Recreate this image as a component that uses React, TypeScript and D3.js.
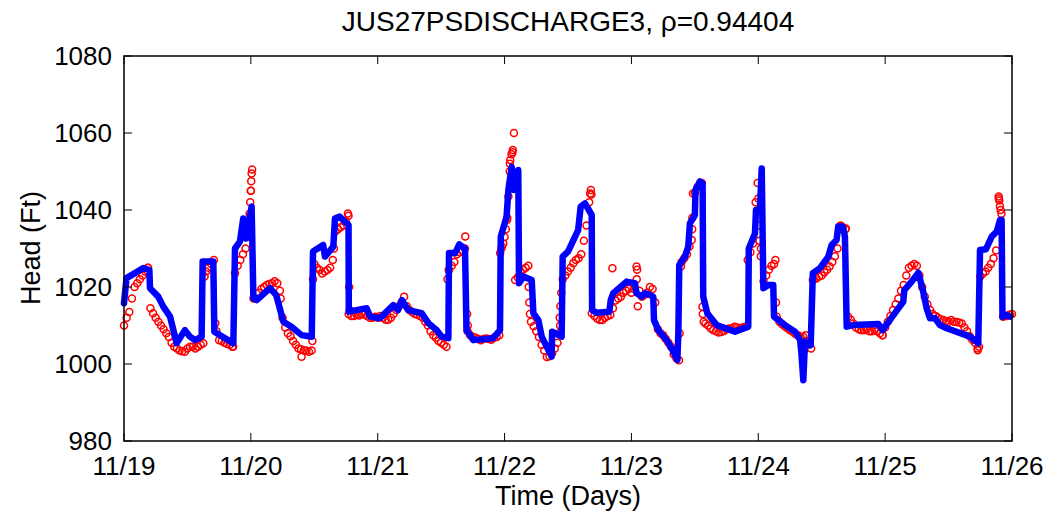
import React from "react";
import * as d3 from "d3";

const title = "JUS27PSDISCHARGE3, ρ=0.94404";
const xTickLabels = ["11/19", "11/20", "11/21", "11/22", "11/23", "11/24", "11/25", "11/26"];
const yTicks = [980, 1000, 1020, 1040, 1060, 1080];

// Model (blue line): [day offset from 11/19, head ft]
const modelSeries: [number, number][] = [
  [0.0, 1015.8], [0.02, 1022.3], [0.152, 1024.9], [0.2, 1024.4], [0.205, 1019.7], [0.27, 1017.5], [0.31, 1014.9],
  [0.363, 1012.3], [0.415, 1005.4], [0.48, 1008.8], [0.52, 1007.1], [0.56, 1006.2], [0.612, 1007.1], [0.62, 1026.6],
  [0.704, 1026.6], [0.712, 1008.4], [0.862, 1005.4], [0.875, 1030], [0.914, 1031.8], [0.94, 1037.8], [0.962, 1032.6],
  [1.006, 1040.9], [1.02, 1017], [1.046, 1016.6], [1.151, 1019.7], [1.2, 1017.9], [1.256, 1011], [1.32, 1009.7],
  [1.4, 1007.5], [1.48, 1007.1], [1.49, 1029.2], [1.57, 1030.9], [1.584, 1027.9], [1.65, 1030.5], [1.663, 1037.8],
  [1.7, 1038.3], [1.77, 1036.1], [1.772, 1013.6], [1.913, 1014.5], [1.94, 1012.3], [2.018, 1011.9], [2.123, 1015.3],
  [2.16, 1014], [2.19, 1016.6], [2.24, 1014], [2.346, 1013.2], [2.4, 1010.6], [2.465, 1008.8], [2.504, 1007.1],
  [2.557, 1006.7], [2.562, 1028.8], [2.61, 1028.8], [2.643, 1031.1], [2.688, 1030], [2.7, 1008.8], [2.754, 1006.2],
  [2.91, 1006.7], [2.964, 1008.8], [2.97, 1033.1], [3.016, 1038.3], [3.03, 1045.2], [3.056, 1051.2], [3.074, 1045.2],
  [3.108, 1050.4], [3.114, 1021], [3.148, 1022.7], [3.214, 1021.8], [3.227, 1013.2], [3.266, 1011.4], [3.293, 1007.1],
  [3.332, 1004.5], [3.371, 1001.9], [3.375, 1008.4], [3.45, 1007.1], [3.458, 1027.9], [3.5, 1029.2], [3.58, 1034.8],
  [3.6, 1040.9], [3.634, 1041.7], [3.687, 1038.7], [3.69, 1014], [3.726, 1013.3], [3.826, 1013.6], [3.837, 1016.6],
  [3.857, 1018.4], [3.962, 1021.4], [4.028, 1021], [4.04, 1018.4], [4.08, 1017.5], [4.107, 1018.4], [4.146, 1017.9],
  [4.172, 1017.5], [4.178, 1011.4], [4.212, 1008.8], [4.278, 1006.2], [4.33, 1003.2], [4.362, 1001], [4.37, 1008],
  [4.377, 1025.7], [4.422, 1027.9], [4.448, 1030.5], [4.461, 1036.5], [4.5, 1038.7], [4.505, 1045.2], [4.54, 1047.4],
  [4.561, 1046.9], [4.566, 1017.5], [4.598, 1013.2], [4.672, 1010.1], [4.816, 1008.4], [4.921, 1009.7], [4.925, 1030],
  [4.974, 1033.9], [4.982, 1040], [5.013, 1040], [5.027, 1050.8], [5.04, 1019.7], [5.08, 1020.5], [5.118, 1020.5],
  [5.124, 1012.3], [5.21, 1010.1], [5.29, 1008.4], [5.33, 1006.2], [5.34, 1002.8], [5.355, 995.8], [5.368, 1005.8],
  [5.413, 1004.9], [5.43, 1023.6], [5.486, 1024.9], [5.552, 1027.9], [5.578, 1030.9], [5.617, 1032.2], [5.63, 1035.7],
  [5.665, 1035.7], [5.683, 1033.1], [5.697, 1009.7], [5.75, 1010.1], [5.946, 1010.4], [5.98, 1008.8], [6.065, 1012.7],
  [6.143, 1016.2], [6.151, 1019.2], [6.209, 1021.4], [6.262, 1023.7], [6.3, 1018.8], [6.327, 1014.5], [6.353, 1011.9],
  [6.393, 1011.9], [6.432, 1010.1], [6.485, 1009.3], [6.669, 1007.1], [6.734, 1005.4], [6.748, 1029.6], [6.795, 1029.8],
  [6.84, 1033.1], [6.88, 1034.4], [6.905, 1037.4], [6.918, 1037.4], [6.925, 1012.3], [6.96, 1012.7], [6.985, 1012.3],
];

// Observed (red circles): readings on the hour, for each day
const obsDay0 = [1010, 1013.5, 1020, 1022, 1024, 1014.5, 1012, 1010, 1008, 1005.5, 1004, 1003.3, 1004, 1004.5, 1004.5, 1005.4, 1025, 1027, 1006.2, 1005.5, 1005, 1023.6, 1027, 1030];
const obsDay1 = [1045, 1017, 1019.5, 1020.5, 1021, 1021, 1012, 1008, 1006, 1004, 1003.5, 1003.2, 1026, 1024.4, 1024, 1025, 1034.5, 1035.5, 1037, 1012.5, 1012.8, 1013, 1012.5, 1012];
const obsDay2 = [1012, 1012, 1011.5, 1013, 1015, 1017.5, 1014, 1013, 1012.5, 1011, 1008.5, 1006.8, 1005.5, 1004.5, 1025.5, 1028.5, 1029.5, 1008.5, 1007, 1006.5, 1006.5, 1006.5, 1006.8, 1007.5];
const obsDay3 = [1033, 1052, 1021.8, 1024, 1025, 1011, 1008.5, 1005, 1001.8, 1002.8, 1005.5, 1022, 1024, 1026.2, 1027.5, 1032, 1042, 1012.5, 1011.4, 1012, 1012.7, 1016.5, 1017.5, 1019];
const obsDay4 = [1018.5, 1022, 1017.5, 1018.5, 1019.5, 1009, 1007.5, 1005.5, 1002.5, 1001, 1027.5, 1030.5, 1044.5, 1047, 1010.5, 1009.2, 1008.5, 1008.3, 1009, 1009.3, 1009.5, 1009.5, 1027, 1031.3];
const obsDay5 = [1043, 1021.5, 1024.5, 1026, 1011, 1009.8, 1008.8, 1007.8, 1007, 1007.5, 1004, 1022.2, 1023, 1024.5, 1026.5, 1030, 1035.5, 1012.3, 1010.5, 1009, 1008.8, 1008.5, 1008.8, 1008];
const obsDay6 = [1009.5, 1012.5, 1015.5, 1019, 1023, 1025.5, 1025.5, 1020, 1015.5, 1013, 1012, 1011.4, 1011, 1011, 1010.8, 1009.5, 1007.2, 1005.5, 1022.7, 1024, 1026, 1029.5, 1039, 1012.5, 1013];

// Observed readings on the half hour, for each day
const obsHalf0 = [1012, 1017, 1021, 1023, 1025, 1013.2, 1011, 1009, 1007, 1004.5, 1003.5, 1003.2, 1004.5, 1004, 1005, 1024, 1026, 1008.5, 1006, 1005.2, 1004.5, 1025.5, 1028.5, 1034];
const obsHalf1 = [1017, 1018.5, 1020, 1020.8, 1021.5, 1019, 1009.5, 1007.2, 1005, 1003.8, 1003.5, 1003.5, 1025, 1023.5, 1024.4, 1027, 1035, 1036, 1013, 1012.5, 1012.6, 1012.8, 1012, 1012.3];
const obsHalf2 = [1012.5, 1011.5, 1012, 1014, 1016, 1015, 1013.5, 1012.8, 1012, 1010, 1007.5, 1006, 1005, 1024.4, 1026.5, 1029, 1030, 1007.5, 1006.8, 1006.2, 1006.6, 1006.3, 1007, 1030.5];
const obsHalf3 = [1038, 1055, 1022.5, 1024.5, 1025.5, 1009.8, 1007, 1003.5, 1002, 1004, 1010, 1023, 1025, 1027, 1028.5, 1036, 1013.2, 1011.8, 1011.4, 1012.5, 1014.5, 1017, 1018.5, 1019.5];
const obsHalf4 = [1019.5, 1019, 1018, 1020, 1016, 1008, 1006.5, 1004.5, 1001.5, 1026.5, 1028.5, 1035, 1046, 1013, 1010, 1008.8, 1008.2, 1008.6, 1009.2, 1009.7, 1009.3, 1009.7, 1029, 1042];
const obsHalf5 = [1030, 1023, 1025.5, 1012.3, 1010.3, 1009.3, 1008.4, 1007.5, 1007.1, 1005, 1022, 1022.7, 1023.8, 1025.3, 1028, 1035.7, 1035, 1011.5, 1009.5, 1008.8, 1009, 1008.5, 1008.5, 1007.5];
const obsHalf6 = [1011, 1014, 1017, 1020.5, 1025, 1026, 1023, 1017.5, 1014, 1012.5, 1011.6, 1011.2, 1011.4, 1010.9, 1010.5, 1008.5, 1006.3, 1004, 1023.5, 1025, 1027.5, 1043, 1012.5, 1012.8];

// Observed readings between those (fast rises and drops)
const obsExtra: [number, number][] = [
  [0.19, 1025], [0.635, 1022.7], [0.72, 1010.6], [0.86, 1004.5], [0.975, 1033], [0.985, 1036], [0.99, 1039],
  [0.995, 1042], [1.0, 1045], [1.003, 1047.5], [1.006, 1049.5], [1.01, 1050.5],
  [1.235, 1017], [1.4, 1001.9], [1.485, 1006], [1.49, 1022], [1.655, 1030], [1.765, 1039.1], [1.77, 1038.5],
  [1.775, 1020], [1.78, 1014],
  [2.55, 1022], [2.56, 1024.4], [2.69, 1033.1], [2.705, 1013], [2.71, 1010], [2.965, 1028.8], [2.975, 1030],
  [2.99, 1031.3], [3.01, 1035], [3.02, 1037.4], [3.03, 1043.5], [3.04, 1050], [3.045, 1053], [3.055, 1054.5],
  [3.065, 1055.6], [3.074, 1060],
  [3.19, 1020], [3.195, 1016], [3.2, 1013], [3.43, 1008], [3.435, 1012], [3.44, 1015], [3.447, 1018.5],
  [3.675, 1044.3], [3.68, 1045.2], [3.685, 1044], [3.85, 1024.9],
  [4.04, 1025.3], [4.045, 1024.5], [4.05, 1015], [4.38, 1008], [4.39, 1025.3], [4.475, 1032.2], [4.48, 1038],
  [4.485, 1044.3], [4.555, 1047], [4.56, 1014.9], [4.57, 1011],
  [4.995, 1047], [5.0, 1040], [5.005, 1036], [5.01, 1032], [5.02, 1028], [5.135, 1027], [5.14, 1016],
  [5.36, 1003.5], [5.38, 1006], [5.43, 1021.8], [5.64, 1035.7], [5.65, 1036], [5.69, 1035.2],
  [5.98, 1007.5], [6.73, 1003.6], [6.74, 1004.5], [6.895, 1043.5], [6.9, 1042.5], [6.905, 1041], [6.91, 1040],
  [6.93, 1012.3], [6.985, 1012.7],
];

const W = 1053;
const H = 520;
const M = { left: 124, right: 1012, top: 56, bottom: 441 };
const FONT = "'Liberation Sans', Arial, Helvetica, sans-serif";

export default function App() {
  const x = d3.scaleLinear().domain([0, 7]).range([M.left, M.right]);
  const y = d3.scaleLinear().domain([980, 1080]).range([M.bottom, M.top]);

  const onHour = [obsDay0, obsDay1, obsDay2, obsDay3, obsDay4, obsDay5, obsDay6];
  const onHalf = [obsHalf0, obsHalf1, obsHalf2, obsHalf3, obsHalf4, obsHalf5, obsHalf6];
  const observed: [number, number][] = [];
  onHour.forEach((arr, d) => arr.forEach((v, h) => observed.push([d + h / 24, v])));
  onHalf.forEach((arr, d) => arr.forEach((v, h) => observed.push([d + (h + 0.5) / 24, v])));
  obsExtra.forEach((p) => observed.push(p));

  const line = d3
    .line<[number, number]>()
    .x((d) => x(d[0]))
    .y((d) => y(d[1]));

  const tickLen = 8;
  const xTicks = d3.range(0, 8);

  return (
    <svg
      width={W}
      height={H}
      style={{ position: "absolute", left: 0, top: 0, background: "#fff" }}
      fontFamily={FONT}
    >
      <rect x={0} y={0} width={W} height={H} fill="#fff" />
      <g>
        {observed.map((p, i) => (
          <circle key={i} cx={x(p[0])} cy={y(p[1])} r={3.5} fill="none" stroke="#ff0000" strokeWidth={1.5} />
        ))}
      </g>
      <path
        d={line(modelSeries) || ""}
        fill="none"
        stroke="#0000ff"
        strokeWidth={6.5}
        strokeLinejoin="round"
        strokeLinecap="round"
      />
      <rect
        x={M.left}
        y={M.top}
        width={M.right - M.left}
        height={M.bottom - M.top}
        fill="none"
        stroke="#000"
        strokeWidth={1.5}
      />
      {xTicks.map((t) => (
        <g key={"xt" + t}>
          <line x1={x(t)} x2={x(t)} y1={M.bottom} y2={M.bottom - tickLen} stroke="#000" strokeWidth={1} />
          <line x1={x(t)} x2={x(t)} y1={M.top} y2={M.top + tickLen} stroke="#000" strokeWidth={1} />
          <text x={x(t)} y={475} textAnchor="middle" fontSize={26} fill="#000">
            {xTickLabels[t]}
          </text>
        </g>
      ))}
      {yTicks.map((v) => (
        <g key={"yt" + v}>
          <line x1={M.left} x2={M.left + tickLen} y1={y(v)} y2={y(v)} stroke="#000" strokeWidth={1} />
          <line x1={M.right} x2={M.right - tickLen} y1={y(v)} y2={y(v)} stroke="#000" strokeWidth={1} />
          <text x={112} y={y(v) + 9} textAnchor="end" fontSize={26} fill="#000">
            {v}
          </text>
        </g>
      ))}
      <text x={568} y={31} textAnchor="middle" fontSize={28} fill="#000">
        {title}
      </text>
      <text x={568} y={505} textAnchor="middle" fontSize={27} fill="#000">
        Time (Days)
      </text>
      <text transform="translate(40,248) rotate(-90)" textAnchor="middle" fontSize={27} fill="#000">
        Head (Ft)
      </text>
    </svg>
  );
}
